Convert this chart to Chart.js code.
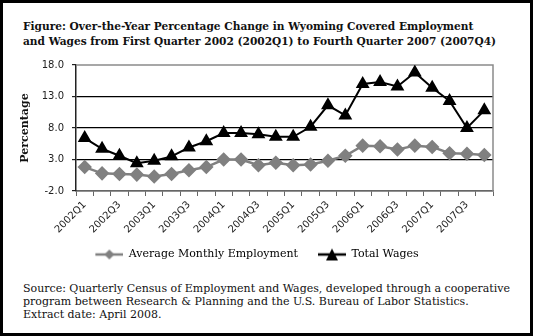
<!DOCTYPE html>
<html>
<head>
<meta charset="utf-8">
<script src="https://cdn.jsdelivr.net/npm/chart.js@4/dist/chart.umd.min.js"></script>
<style>
  html, body { margin: 0; padding: 0; background: #fff; }
  #frame {
    position: relative; width: 533px; height: 336px; box-sizing: border-box;
    border: 3px solid #000; overflow: hidden;
  }
  #title {
    position: absolute; left: 20px; top: 16px; margin: 0;
    font: bold 10.6px "DejaVu Serif", serif; line-height: 15px; color: #111;
  }
  #plot { position: absolute; left: -3px; top: 47px; width: 533px; height: 220px; }
  #source {
    position: absolute; left: 20px; top: 279px; margin: 0;
    font: 11px "DejaVu Serif", serif; line-height: 13px; color: #111;
  }
</style>
</head>
<body>
<div id="frame">
  <p id="title">Figure: Over-the-Year Percentage Change in Wyoming Covered Employment<br>and Wages from First Quarter 2002 (2002Q1) to Fourth Quarter 2007 (2007Q4)</p>
  <div id="plot"><canvas id="chart"></canvas></div>
  <p id="source">Source: Quarterly Census of Employment and Wages, developed through a cooperative<br>program between Research &amp; Planning and the U.S. Bureau of Labor Statistics.<br>Extract date: April 2008.</p>
</div>
<script>
const quarters = [
  "2002Q1", "2002Q2", "2002Q3", "2002Q4",
  "2003Q1", "2003Q2", "2003Q3", "2003Q4",
  "2004Q1", "2004Q2", "2004Q3", "2004Q4",
  "2005Q1", "2005Q2", "2005Q3", "2005Q4",
  "2006Q1", "2006Q2", "2006Q3", "2006Q4",
  "2007Q1", "2007Q2", "2007Q3", "2007Q4"
];
const employment = [1.8, 0.8, 0.7, 0.6, 0.3, 0.7, 1.3, 1.8, 3.0, 3.0, 2.1, 2.5,
                    2.1, 2.2, 2.8, 3.6, 5.2, 5.1, 4.6, 5.2, 5.0, 4.0, 3.9, 3.7];
const wages = [6.4, 4.7, 3.6, 2.4, 2.8, 3.5, 4.9, 5.9, 7.2, 7.2, 7.0, 6.6,
               6.6, 8.2, 11.6, 10.0, 15.0, 15.3, 14.6, 16.8, 14.4, 12.3, 8.0, 10.8];
const yTicks = [-2, 3, 8, 13, 18];

const empColour = "#808080";
const wageColour = "#000000";

// line + marker picture for the legend; 10px blank on the left keeps the items apart
function legendIcon(colour, style) {
  const c = document.createElement("canvas");
  c.width = 38; c.height = 14;
  const g = c.getContext("2d");
  g.strokeStyle = colour; g.lineWidth = 2.5;
  g.beginPath(); g.moveTo(10, 7); g.lineTo(38, 7); g.stroke();
  g.fillStyle = colour;
  g.beginPath();
  if (style === "rectRot") {
    g.moveTo(24, 2); g.lineTo(29, 7); g.lineTo(24, 12); g.lineTo(19, 7);
  } else {
    g.moveTo(24, 1); g.lineTo(30, 13); g.lineTo(18, 13);
  }
  g.closePath(); g.fill();
  return c;
}

const plotBox = {
  id: "plotBox",
  beforeDatasetsDraw(chart) {
    const a = chart.chartArea, ctx = chart.ctx;
    ctx.save();
    ctx.strokeStyle = "#8a8a8a"; ctx.lineWidth = 1.5;
    ctx.beginPath();
    ctx.moveTo(a.left, a.top); ctx.lineTo(a.right, a.top); ctx.lineTo(a.right, a.bottom);
    ctx.stroke();
    ctx.restore();
  }
};

new Chart(document.getElementById("chart"), {
  type: "line",
  data: {
    labels: quarters,
    datasets: [
      {
        label: "Average Monthly Employment",
        data: employment,
        borderColor: empColour,
        backgroundColor: empColour,
        borderWidth: 2.5,
        pointStyle: "rectRot",
        pointRadius: 5.5,
        pointHoverRadius: 5.5,
        tension: 0
      },
      {
        label: "Total Wages",
        data: wages,
        borderColor: wageColour,
        backgroundColor: wageColour,
        borderWidth: 2,
        pointStyle: "triangle",
        pointRadius: 6,
        pointHoverRadius: 6,
        tension: 0
      }
    ]
  },
  options: {
    responsive: true,
    maintainAspectRatio: false,
    animation: false,
    layout: { padding: { left: 11, right: 40, top: 15, bottom: 0 } },
    plugins: {
      tooltip: { enabled: false },
      legend: {
        position: "bottom",
        labels: {
          usePointStyle: true,
          pointStyleWidth: 38,
          boxHeight: 12,
          padding: 10,
          color: "#111",
          font: { family: "'DejaVu Serif', serif", size: 11 },
          generateLabels(chart) {
            return chart.data.datasets.map((ds, i) => ({
              text: ds.label,
              fillStyle: ds.borderColor,
              strokeStyle: ds.borderColor,
              lineWidth: 0,
              pointStyle: legendIcon(ds.borderColor, ds.pointStyle),
              datasetIndex: i,
              hidden: false
            }));
          }
        }
      }
    },
    scales: {
      x: {
        offset: true,
        afterFit(s) { s.height = 48; },
        border: { color: "#666", width: 1.5 },
        grid: { drawOnChartArea: false, drawTicks: true, tickLength: 5, color: "#666", offset: true },
        ticks: {
          autoSkip: false,
          maxRotation: 45,
          minRotation: 45,
          color: "#222",
          font: { family: "'DejaVu Sans', sans-serif", size: 10 },
          callback(v, i) { return i % 2 === 0 ? quarters[i] : ""; }
        }
      },
      y: {
        min: -2,
        max: 18,
        afterFit(s) { s.width = 65; },
        afterBuildTicks(s) { s.ticks = yTicks.map(v => ({ value: v })); },
        border: { color: "#222", width: 1.5 },
        grid: {
          color(c) { return c.tick && c.tick.value === 18 ? "rgba(0,0,0,0)" : "#000"; },
          tickColor: "#222",
          tickLength: 4,
          lineWidth: 1.2
        },
        ticks: {
          color: "#222",
          padding: 8,
          font: { family: "'DejaVu Sans', sans-serif", size: 10 },
          callback(v) { return Number(v).toFixed(1); }
        },
        title: {
          display: true,
          text: "Percentage",
          color: "#111",
          padding: { top: 8, bottom: 6 },
          font: { family: "'DejaVu Serif', serif", size: 11, weight: "bold" }
        }
      }
    }
  },
  plugins: [plotBox]
});
</script>
</body>
</html>
